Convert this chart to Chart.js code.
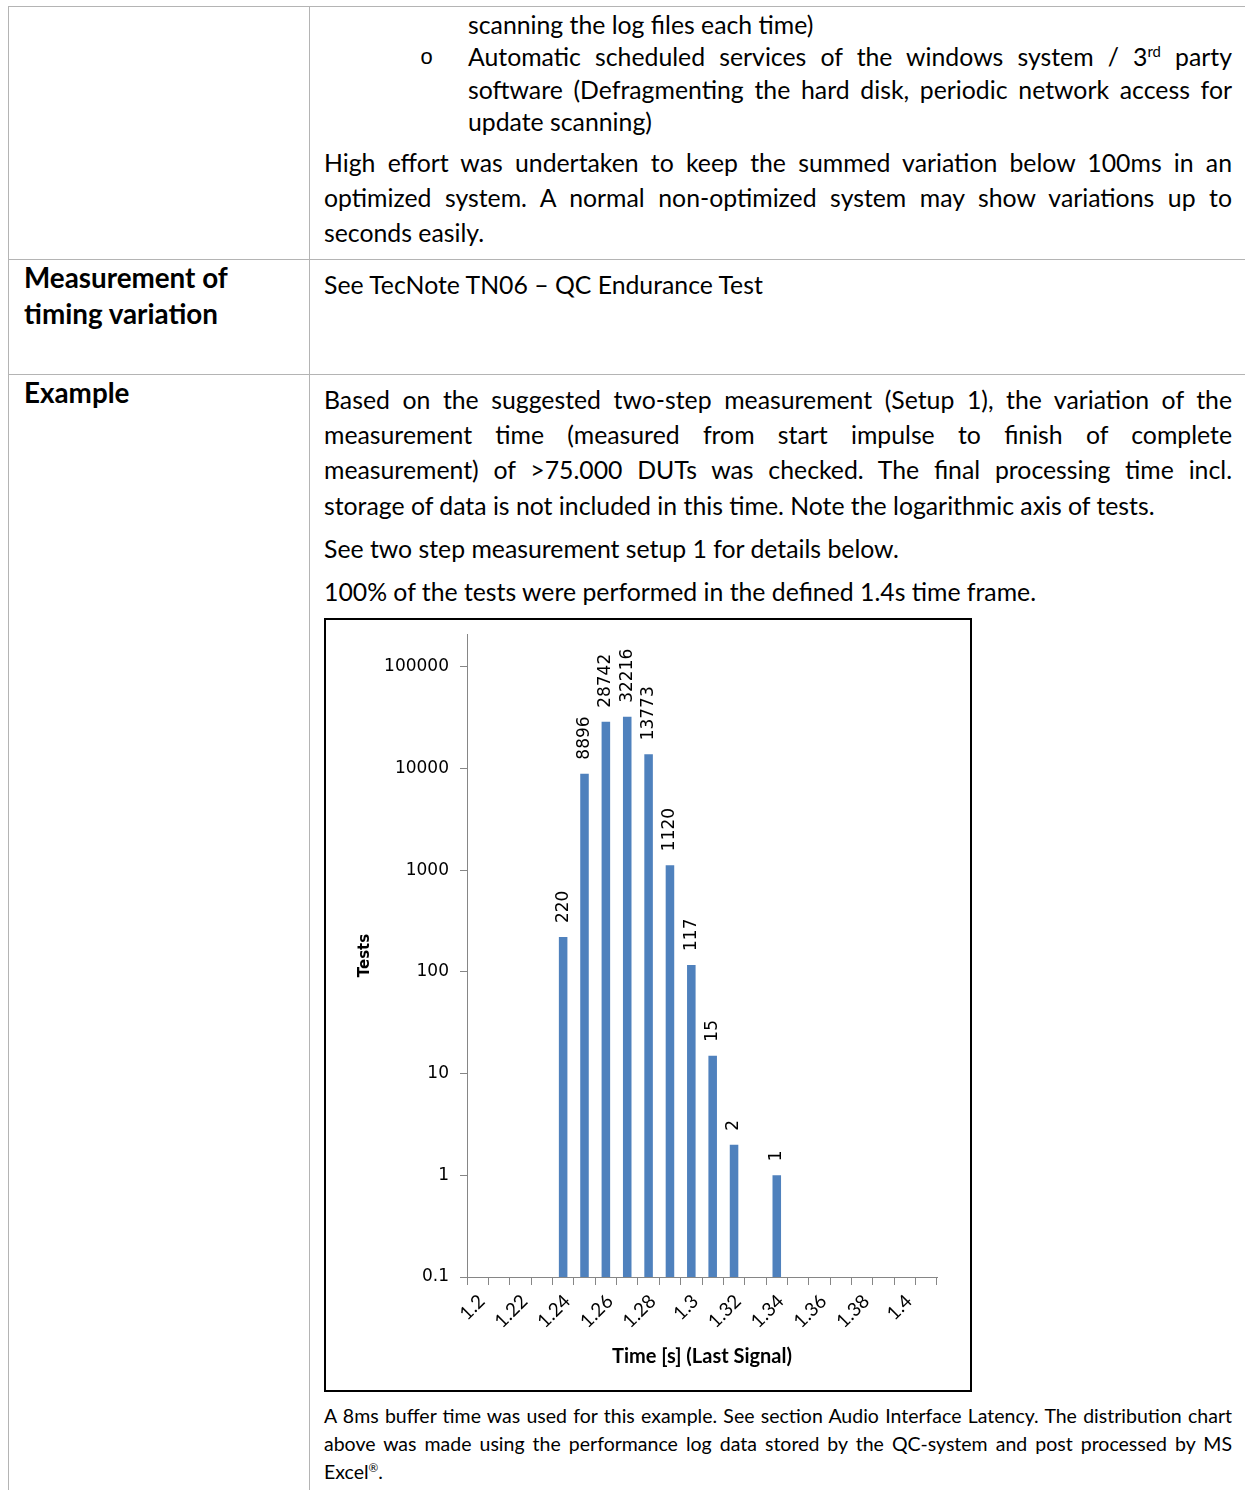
<!DOCTYPE html>
<html>
<head>
<meta charset="utf-8">
<script src="https://cdn.jsdelivr.net/npm/chart.js@4"></script>
<style>
  html, body { margin: 0; padding: 0; background: #fff; }
  body { width: 1245px; height: 1490px; position: relative; overflow: hidden; font-family: Lato, sans-serif; color: #000; }
  .hl { position: absolute; height: 1px; background: #b4b4b4; left: 8px; width: 1237px; }
  .vl { position: absolute; width: 1px; background: #b4b4b4; top: 6px; height: 1484px; }
  .ln { position: absolute; font-size: 24.8px; line-height: 35px; white-space: nowrap; }
  .j { white-space: normal; text-align: justify; text-align-last: justify; word-spacing: -2px; }
  .b { font-weight: bold; font-size: 27.8px; line-height: 36px; }
  .cap { font-size: 19.5px; line-height: 28px; }
  sup { font-size: 0.6em; line-height: 0; vertical-align: 0.6em; }
  #chartBox { position: absolute; left: 324px; top: 618px; width: 648px; height: 774px; border: 2px solid #000; box-sizing: border-box; }
  #chartBox canvas { display: block; }
</style>
</head>
<body>
<!-- table lines -->
<div class="hl" style="top:6px"></div>
<div class="hl" style="top:259px"></div>
<div class="hl" style="top:374px"></div>
<div class="vl" style="left:8px"></div>
<div class="vl" style="left:309px"></div>

<!-- row 1 -->
<div class="ln" style="left:468px; top:7px">scanning the log files each time)</div>
<div class="ln" style="left:420px; top:41px; font-family:'Liberation Mono'; font-size:22px">o</div>
<div class="ln j" style="left:468px; top:39px; width:764px">Automatic scheduled services of the windows system / 3<sup>rd</sup> party</div>
<div class="ln j" style="left:468px; top:72px; width:764px">software (Defragmenting the hard disk, periodic network access for</div>
<div class="ln" style="left:468px; top:104px">update scanning)</div>
<div class="ln j" style="left:324px; top:145px; width:908px">High effort was undertaken to keep the summed variation below 100ms in an</div>
<div class="ln j" style="left:324px; top:180px; width:908px">optimized system. A normal non-optimized system may show variations up to</div>
<div class="ln" style="left:324px; top:215px">seconds easily.</div>

<!-- row 2 -->
<div class="ln b" style="left:24px; top:260px">Measurement of</div>
<div class="ln b" style="left:24px; top:296px">timing variation</div>
<div class="ln" style="left:324px; top:267px">See TecNote TN06 – QC Endurance Test</div>

<!-- row 3 -->
<div class="ln b" style="left:24px; top:375px">Example</div>
<div class="ln j" style="left:324px; top:382px; width:908px">Based on the suggested two-step measurement (Setup 1), the variation of the</div>
<div class="ln j" style="left:324px; top:417px; width:908px">measurement time (measured from start impulse to finish of complete</div>
<div class="ln j" style="left:324px; top:452px; width:908px">measurement) of &gt;75.000 DUTs was checked. The final processing time incl.</div>
<div class="ln" style="left:324px; top:488px">storage of data is not included in this time. Note the logarithmic axis of tests.</div>
<div class="ln" style="left:324px; top:531px">See two step measurement setup 1 for details below.</div>
<div class="ln" style="left:324px; top:574px">100% of the tests were performed in the defined 1.4s time frame.</div>

<div id="chartBox"><canvas id="chartTests" width="644" height="770"></canvas></div>

<div class="ln cap j" style="left:324px; top:1402px; width:908px">A 8ms buffer time was used for this example. See section Audio Interface Latency. The distribution chart</div>
<div class="ln cap j" style="left:324px; top:1430px; width:908px">above was made using the performance log data stored by the QC-system and post processed by MS</div>
<div class="ln cap" style="left:324px; top:1458px">Excel<sup>®</sup>.</div>

<script>
// Daten des Diagramms
const timeLabels = ['1.2', '1.21', '1.22', '1.23', '1.24', '1.25', '1.26', '1.27', '1.28', '1.29', '1.3',
  '1.31', '1.32', '1.33', '1.34', '1.35', '1.36', '1.37', '1.38', '1.39', '1.4', '1.41'];
const testCounts = [null, null, null, null, 220, 8896, 28742, 32216, 13773, 1120, 117,
  15, 2, null, 1, null, null, null, null, null, null, null];
const yTickValues = [0.1, 1, 10, 100, 1000, 10000, 100000];

const axisGrey = '#868686';

// Werte über den Balken, um 90° gedreht
const barValueLabels = {
  id: 'barValueLabels',
  afterDatasetsDraw(chart) {
    const ctx = chart.ctx;
    const meta = chart.getDatasetMeta(0);
    ctx.save();
    ctx.font = '17px "DejaVu Sans"';
    ctx.fillStyle = '#000';
    ctx.textAlign = 'left';
    ctx.textBaseline = 'middle';
    meta.data.forEach(function(bar, i) {
      const v = testCounts[i];
      if (v === null) return;
      ctx.save();
      ctx.translate(bar.x, bar.y - 14);
      ctx.rotate(-Math.PI / 2);
      ctx.fillText(String(v), 0, 0);
      ctx.restore();
    });
    ctx.restore();
  }
};

// feste Achsenmaße, damit die Zeichenfläche wie im Original sitzt
function fixSize(w, h) {
  return function(scale) {
    if (w) scale.width = w;
    if (h) scale.height = h;
    scale.paddingTop = 0;
    scale.paddingBottom = 0;
    scale.paddingLeft = 0;
    scale.paddingRight = 0;
  };
}

const chartTests = document.getElementById('chartTests');
new Chart(chartTests, {
  type: 'bar',
  data: {
    labels: timeLabels,
    datasets: [{
      label: 'Tests',
      data: testCounts,
      backgroundColor: '#4F81BD',
      barPercentage: 0.4,
      categoryPercentage: 1.0
    }]
  },
  options: {
    responsive: false,
    animation: false,
    layout: { padding: { top: 14, right: 33, left: 0, bottom: 0 } },
    plugins: { legend: { display: false }, tooltip: { enabled: false } },
    scales: {
      x: {
        grid: { offset: true, drawOnChartArea: false, drawTicks: true, tickLength: 8, color: axisGrey },
        border: { color: axisGrey },
        ticks: {
          autoSkip: false,
          minRotation: 45,
          maxRotation: 45,
          padding: 5,
          labelOffset: 4,
          color: '#000',
          font: { family: 'Lato', size: 19 },
          callback: function(value, index) {
            return index % 2 === 0 ? timeLabels[index] : '';
          }
        },
        title: {
          display: true,
          text: 'Time [s] (Last Signal)',
          color: '#000',
          font: { family: 'Lato', size: 20, weight: 'bold' },
          padding: { top: 0, bottom: 21 }
        },
        afterFit: fixSize(0, 113)
      },
      y: {
        type: 'logarithmic',
        min: 0.1,
        max: 210000,
        grid: { drawOnChartArea: false, drawTicks: true, tickLength: 7, color: axisGrey },
        border: { color: axisGrey },
        afterBuildTicks: function(scale) {
          scale.ticks = yTickValues.map(function(v) { return { value: v }; });
        },
        ticks: {
          padding: 11,
          color: '#000',
          font: { family: 'DejaVu Sans', size: 17 },
          callback: function(value) { return String(value); }
        },
        title: {
          display: true,
          text: 'Tests',
          color: '#000',
          font: { family: 'DejaVu Sans', size: 15, weight: 'bold' },
          padding: { top: 30, bottom: 0 }
        },
        afterFit: fixSize(141, 0)
      }
    }
  },
  plugins: [barValueLabels]
});
</script>
</body>
</html>
